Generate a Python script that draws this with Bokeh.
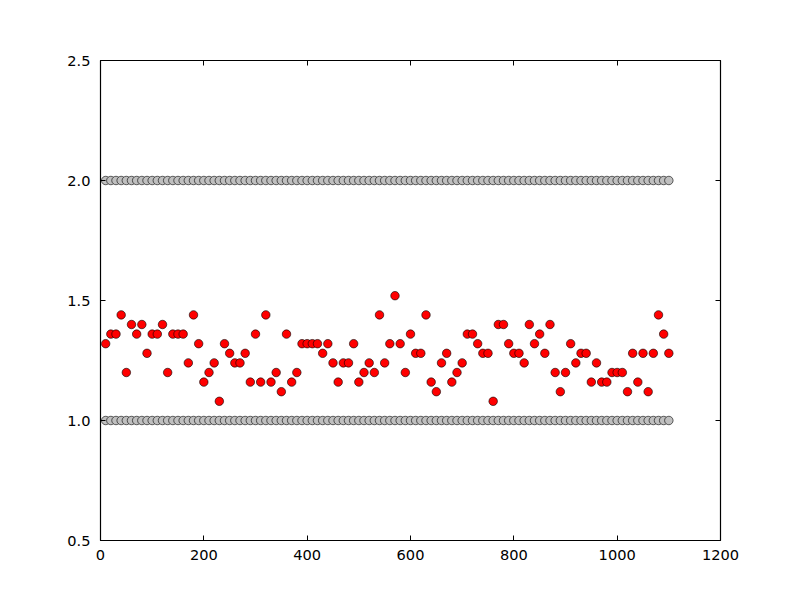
from bokeh.plotting import figure
from bokeh.models import Range1d, FixedTicker, LinearAxis, PrintfTickFormatter, CustomJSTickFormatter
from bokeh.embed import file_html
from bokeh.resources import INLINE

x = list(range(10, 1101, 10))
upper_y = [2.0] * len(x)
lower_y = [1.0] * len(x)
red_y = [
    1.32, 1.36, 1.36, 1.44, 1.20, 1.40, 1.36, 1.40, 1.28, 1.36,
    1.36, 1.40, 1.20, 1.36, 1.36, 1.36, 1.24, 1.44, 1.32, 1.16,
    1.20, 1.24, 1.08, 1.32, 1.28, 1.24, 1.24, 1.28, 1.16, 1.36,
    1.16, 1.44, 1.16, 1.20, 1.12, 1.36, 1.16, 1.20, 1.32, 1.32,
    1.32, 1.32, 1.28, 1.32, 1.24, 1.16, 1.24, 1.24, 1.32, 1.16,
    1.20, 1.24, 1.20, 1.44, 1.24, 1.32, 1.52, 1.32, 1.20, 1.36,
    1.28, 1.28, 1.44, 1.16, 1.12, 1.24, 1.28, 1.16, 1.20, 1.24,
    1.36, 1.36, 1.32, 1.28, 1.28, 1.08, 1.40, 1.40, 1.32, 1.28,
    1.28, 1.24, 1.40, 1.32, 1.36, 1.28, 1.40, 1.20, 1.12, 1.20,
    1.32, 1.24, 1.28, 1.28, 1.16, 1.24, 1.16, 1.16, 1.20, 1.20,
    1.20, 1.12, 1.28, 1.16, 1.28, 1.12, 1.28, 1.44, 1.36, 1.28,
]
x_ticks = [0, 200, 400, 600, 800, 1000, 1200]
y_ticks = [0.5, 1.0, 1.5, 2.0, 2.5]

p = figure(width=792, height=592, output_backend="svg", toolbar_location=None,
           x_range=Range1d(0, 1200), y_range=Range1d(0.5, 2.5),
           min_border_left=100, min_border_right=72, min_border_top=60, min_border_bottom=52)
p.background_fill_color = "white"
p.border_fill_color = "white"
p.outline_line_color = "black"
p.outline_line_width = 1.2
p.xgrid.visible = False
p.ygrid.visible = False

for ax in (p.xaxis[0], p.yaxis[0]):
    ax.axis_line_color = None
    ax.major_tick_in = 5
    ax.major_tick_out = 0
    ax.minor_tick_in = 0
    ax.minor_tick_out = 0
    ax.major_label_text_font = "DejaVu Sans"
    ax.major_label_text_font_size = "14.6px"
    ax.major_label_text_color = "black"
    ax.major_tick_line_color = "black"
p.xaxis[0].major_label_standoff = 9
p.yaxis[0].major_label_standoff = 10
p.xaxis[0].ticker = FixedTicker(ticks=x_ticks)
p.yaxis[0].ticker = FixedTicker(ticks=y_ticks)
p.yaxis[0].formatter = PrintfTickFormatter(format="%.1f")

blank = CustomJSTickFormatter(code="return ''")
top = LinearAxis(ticker=FixedTicker(ticks=x_ticks), axis_line_color=None,
                 major_tick_in=5, major_tick_out=0, minor_tick_in=0, minor_tick_out=0,
                 formatter=blank, major_label_standoff=0)
right = LinearAxis(ticker=FixedTicker(ticks=y_ticks), axis_line_color=None,
                   major_tick_in=5, major_tick_out=0, minor_tick_in=0, minor_tick_out=0,
                   formatter=CustomJSTickFormatter(code="return ''"), major_label_standoff=0)
p.add_layout(top, "above")
p.add_layout(right, "right")

p.scatter(x, upper_y, size=8.5, fill_color="#bfbfbf", line_color="black", line_width=0.6)
p.scatter(x, lower_y, size=8.5, fill_color="#bfbfbf", line_color="black", line_width=0.6)
p.scatter(x, red_y, size=8.5, fill_color="red", line_color="black", line_width=0.6)

open("out.html", "w").write(file_html(p, INLINE))
